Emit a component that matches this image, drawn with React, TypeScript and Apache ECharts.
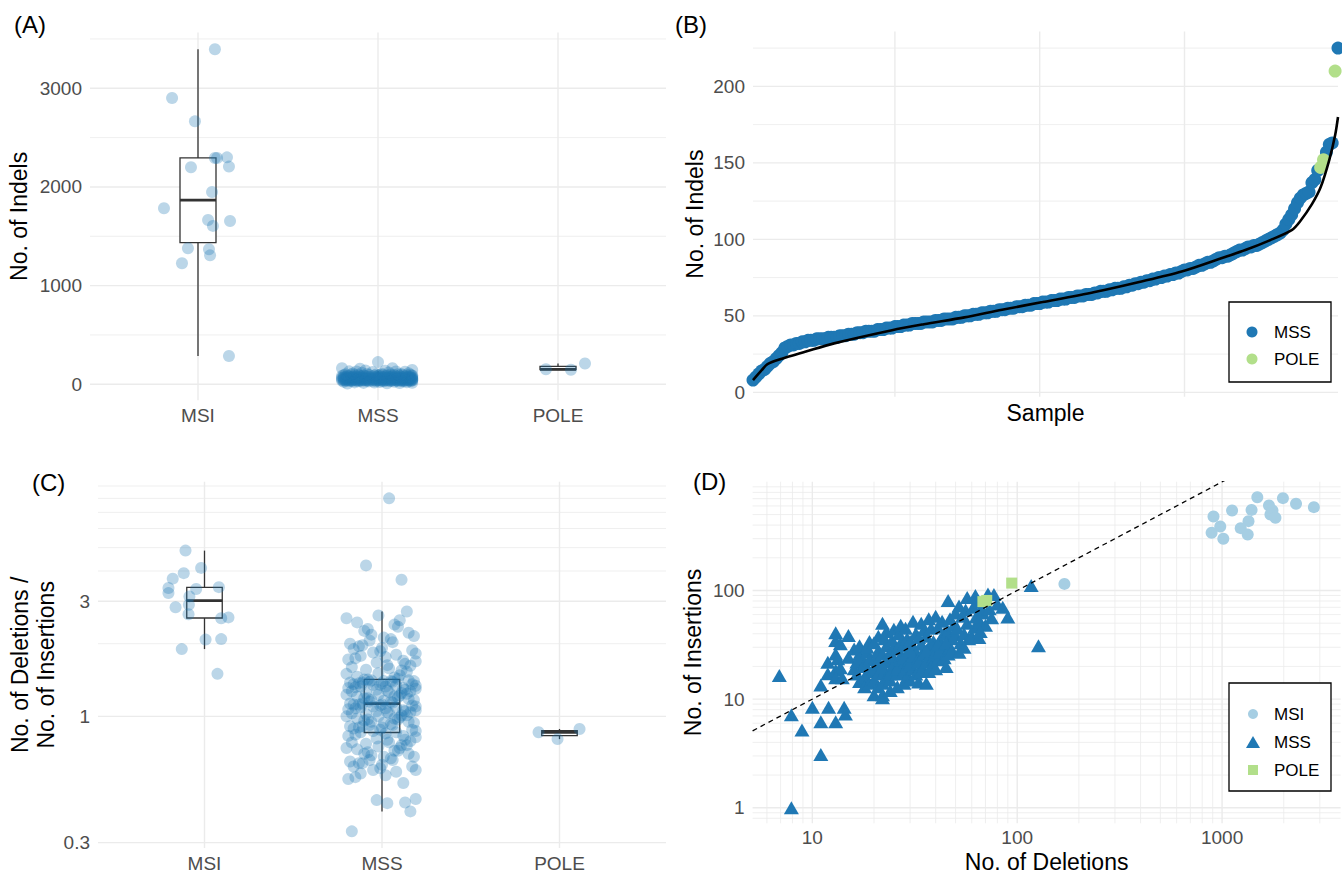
import { useEffect, useRef } from "react";
import * as echarts from "echarts";

const FONT = "'Liberation Sans', Arial, Helvetica, sans-serif";

const groups = ["MSI", "MSS", "POLE"];

// ---------- Panel A: total indels per sample ----------
const msiIndels = [3395, 2902, 2665, 2294, 2294, 2300, 2199, 2206, 1949, 1784, 1665, 1655, 1605, 1378, 1368, 1307, 1226, 287];
const msiIndelsJitter = [0.094, -0.144, -0.017, 0.094, 0.106, 0.161, -0.039, 0.172, 0.078, -0.189, 0.056, 0.178, 0.083, -0.056, 0.061, 0.067, -0.089, 0.172];
const mssIndels = [
  8, 10, 12, 14, 15, 17, 19, 20, 22, 24,
  26, 29, 30, 31, 31, 32, 32, 33, 33, 34,
  34, 34, 35, 35, 35, 35, 36, 36, 36, 36,
  37, 37, 37, 38, 38, 38, 39, 39, 39, 40,
  40, 40, 40, 41, 41, 41, 42, 42, 42, 43,
  43, 43, 44, 44, 44, 45, 45, 45, 45, 46,
  46, 46, 46, 47, 47, 47, 48, 48, 48, 48,
  49, 49, 49, 50, 50, 50, 51, 51, 51, 52,
  52, 52, 53, 53, 53, 54, 54, 54, 55, 55,
  55, 56, 56, 56, 57, 57, 57, 58, 58, 58,
  59, 59, 59, 60, 60, 60, 61, 61, 61, 62,
  62, 62, 63, 63, 63, 64, 64, 64, 65, 65,
  66, 66, 66, 67, 67, 68, 68, 68, 69, 69,
  70, 70, 71, 71, 72, 72, 73, 73, 74, 74,
  75, 75, 76, 76, 77, 77, 78, 78, 79, 80,
  80, 81, 81, 82, 83, 83, 84, 85, 85, 86,
  87, 88, 88, 89, 89, 90, 91, 92, 93, 93,
  94, 95, 95, 96, 96, 97, 98, 99, 100, 101,
  102, 103, 104, 106, 110, 113, 116, 120, 124, 127,
  129, 130, 131, 137, 139, 145, 157, 162, 163, 225,
];
const poleIndels = [147, 152, 210];
const poleIndelsJitter = [0.072, -0.067, 0.15];

// jitter offsets (category units) reused cyclically for the MSS cloud
const mssJitter = [-0.17, 0.05, 0.12, -0.08, 0.19, -0.02, -0.13, 0.16, 0.01, -0.19, 0.09, -0.05, 0.14, -0.11, 0.03, 0.18, -0.15, 0.07, -0.01, 0.11, -0.18, 0.13, -0.06, 0.02, -0.14, 0.17, -0.09, 0.06, -0.03, 0.15, -0.12, 0.1, -0.16, 0.04, -0.07, 0.19, -0.1, 0.08, -0.2, 0.0];

// ---------- Panel B: fitted curve ----------
const fitRank = [1, 4, 6, 11, 19, 29, 49, 60, 74, 87, 101, 119, 134, 149, 164, 171, 179, 187, 190, 194, 197, 200, 202, 203];
const fitIndels = [8, 14.5, 18.5, 22, 26.5, 32, 40.6, 44.5, 49, 54, 59, 65.6, 72, 79, 88.5, 93, 99, 106, 112, 123, 134, 152, 168, 180];

// ---------- Panel C: deletions / insertions ----------
const msiRatio = [4.86, 4.12, 3.92, 3.72, 3.4, 3.24, 3.37, 3.43, 3.14, 2.83, 2.9, 2.65, 2.55, 2.57, 2.08, 2.09, 1.9, 1.5];
const msiRatioJitter = [-0.107, -0.019, -0.117, -0.179, -0.203, -0.203, -0.047, 0.081, -0.085, -0.163, -0.088, -0.09, 0.094, 0.135, 0.006, 0.094, -0.128, 0.073];
const mssRatio = [
  0.334, 0.404, 0.437, 0.44, 0.45, 0.455, 0.53, 0.55, 0.56, 0.57,
  0.58, 0.59, 0.6, 0.6, 0.61, 0.62, 0.62, 0.63, 0.64, 0.64,
  0.65, 0.66, 0.66, 0.67, 0.68, 0.68, 0.69, 0.7, 0.7, 0.71,
  0.72, 0.72, 0.73, 0.74, 0.74, 0.75, 0.76, 0.76, 0.77, 0.78,
  0.78, 0.79, 0.8, 0.8, 0.81, 0.82, 0.83, 0.83, 0.84, 0.85,
  0.86, 0.86, 0.87, 0.87, 0.88, 0.88, 0.89, 0.9, 0.9, 0.91,
  0.91, 0.92, 0.92, 0.93, 0.94, 0.94, 0.95, 0.95, 0.96, 0.97,
  0.97, 0.98, 0.98, 0.99, 1.0, 1.0, 1.01, 1.01, 1.02, 1.03,
  1.03, 1.04, 1.04, 1.05, 1.05, 1.06, 1.06, 1.07, 1.08, 1.08,
  1.09, 1.09, 1.1, 1.1, 1.11, 1.11, 1.12, 1.12, 1.12, 1.13,
  1.13, 1.14, 1.15, 1.15, 1.16, 1.17, 1.17, 1.18, 1.19, 1.19,
  1.2, 1.21, 1.21, 1.22, 1.23, 1.23, 1.24, 1.25, 1.25, 1.26,
  1.27, 1.27, 1.28, 1.29, 1.29, 1.3, 1.31, 1.31, 1.32, 1.33,
  1.33, 1.34, 1.34, 1.35, 1.35, 1.36, 1.36, 1.37, 1.37, 1.38,
  1.38, 1.39, 1.39, 1.4, 1.4, 1.4, 1.41, 1.41, 1.42, 1.42,
  1.43, 1.45, 1.46, 1.48, 1.5, 1.51, 1.53, 1.55, 1.56, 1.58,
  1.6, 1.62, 1.63, 1.65, 1.67, 1.69, 1.7, 1.72, 1.74, 1.76,
  1.78, 1.8, 1.82, 1.84, 1.86, 1.88, 1.9, 1.92, 1.95, 1.97,
  2.0, 2.03, 2.06, 2.09, 2.12, 2.15, 2.18, 2.22, 2.26, 2.3,
  2.35, 2.4, 2.45, 2.5, 2.55, 2.62, 2.72, 3.68, 4.22, 8.0,
];
const poleRatio = [0.859, 0.805, 0.887];
const poleRatioJitter = [-0.118, -0.011, 0.113];

// ---------- Panel D: deletions vs insertions ----------
const msiDeletions = [1486, 1982, 2296, 2806, 1694, 1119, 1393, 1762, 1722, 1822, 908, 1346, 980, 1233, 889, 1334, 1014, 170];
const msiInsertions = [722, 708, 628, 585, 606, 545, 552, 545, 500, 467, 480, 435, 388, 375, 340, 327, 299, 115];
const poleDeletions = [68, 71, 94];
const poleInsertions = [79, 81, 117];
const mssDelIns: [number, number][] = [
  [6.9, 16.5], [7.9, 7.2], [7.9, 1.0], [8.9, 5.2], [10, 8.4], [11, 6.2], [11, 3.1], [12, 8.4], [13, 6.2], [14.3, 8.4], [14.5, 7.3],
  [13, 40.8], [13, 34.7], [15, 38.5], [13.7, 32.3], [13, 26], [11.9, 21.9], [13.3, 23.5], [15, 24.3], [11.9, 17.1], [13, 18.4], [13.7, 19.4], [11, 13.5], [13, 15.7], [14, 15.7],
  [16, 19], [16.5, 22], [17, 26], [16, 29], [17, 31], [17, 14.5], [16.5, 17], [17.5, 20], [17, 24],
  [18, 16], [18, 21], [18.5, 27], [19, 34], [18, 13], [19, 18], [19, 23], [18.5, 30], [19, 14],
  [20, 11], [20, 15], [20, 19], [20.5, 24], [21, 28], [20, 33], [21, 38], [21, 17], [20.5, 21], [21, 13],
  [22, 10.3], [22, 11], [22, 50], [22, 14], [22.5, 18], [23, 22], [22, 26], [23, 31], [22.5, 36], [23, 42], [23, 16], [22, 20],
  [24, 12], [24, 15], [24.5, 19], [25, 23], [24, 27], [25, 30], [24.5, 35], [25, 44], [24, 17], [25, 21], [24, 25],
  [26, 13], [26, 17], [26.5, 21], [27, 25], [26, 29], [27, 33], [26.5, 40], [27, 48], [26, 19], [27, 23],
  [28, 14], [28, 18], [28.5, 22], [29, 26], [28, 31], [29, 36], [28.5, 45], [29, 20], [28, 24], [29, 16],
  [30, 15], [31, 19], [30, 23], [32, 27], [31, 30], [30, 34], [32, 40], [31, 52], [30, 21], [32, 17], [31, 25], [30, 28],
  [33, 14.4], [34, 20], [33, 24], [35, 28], [34, 32], [33, 37], [35, 43], [34, 50], [33, 22], [35, 26], [34, 18],
  [36, 14], [37, 18], [36, 22], [38, 26], [37, 30], [39, 34], [36, 38], [38, 45], [37, 55], [39, 24], [36, 28], [38, 20],
  [40, 19], [41, 23], [40, 27], [43, 31], [42, 35], [44, 40], [41, 46], [43, 52], [40, 58], [42, 28], [44, 24], [41, 32],
  [45, 20], [46, 26], [47, 30], [48, 36], [46, 42], [49, 48], [47, 55], [50, 62], [45, 33], [48, 28], [50, 39], [46, 81],
  [52, 27], [53, 33], [55, 40], [51, 45], [57, 50], [54, 58], [56, 66], [52, 72], [58, 36], [55, 30], [57, 86],
  [60, 38], [62, 46], [65, 37], [66, 51], [63, 57], [68, 62], [61, 70], [64, 78], [62.5, 90], [70, 48], [66, 42], [67, 68],
  [72, 93], [73, 68], [77, 92], [75, 56], [90, 57], [127, 31], [117, 111], [80, 75], [85, 70],
];

// ---------- tick labels / grid breaks ----------
const ticksA = [0, 1000, 2000, 3000];
const minorA = [500, 1500, 2500, 3500];
const ticksB = [0, 50, 100, 150, 200];
const minorB = [25, 75, 125, 175, 225];
const sampleBreaks = [50, 100, 150];
const ticksC = [0.3, 1, 3];
const minorC = [2, 4, 5, 6, 7, 8, 9];
const ticksDy = [1, 10, 100];
const minorDy = [0.8, 0.9, 2, 3, 4, 5, 6, 7, 8, 9, 20, 30, 40, 50, 60, 70, 80, 90, 200, 300, 400, 500, 600, 700, 800, 900];
const ticksDx = [10, 100, 1000];
const minorDx = [6, 7, 8, 9, 20, 30, 40, 50, 60, 70, 80, 90, 200, 300, 400, 500, 600, 700, 800, 900, 2000, 3000];

const C_MSS = "#1F78B4";
const C_MSI = "#A6CEE3";
const C_POLE = "#B2DF8A";
const C_JIT = "rgba(31,120,180,0.3)";

const lg = Math.log10;

function padRange(vals: number[]): [number, number] {
  const mn = Math.min(...vals), mx = Math.max(...vals);
  const p = (mx - mn) * 0.05;
  return [mn - p, mx + p];
}

function quantile(s: number[], p: number) {
  const h = (s.length - 1) * p;
  const lo = Math.floor(h), hi = Math.ceil(h);
  return s[lo] + (h - lo) * (s[hi] - s[lo]);
}

function boxStats(vals: number[]) {
  const s = [...vals].sort((a, b) => a - b);
  const q1 = quantile(s, 0.25), med = quantile(s, 0.5), q3 = quantile(s, 0.75);
  const iqr = q3 - q1;
  const lo = s.find((v) => v >= q1 - 1.5 * iqr) as number;
  const hi = [...s].reverse().find((v) => v <= q3 + 1.5 * iqr) as number;
  return [q1, med, q3, lo, hi];
}

function gridLineSeries(i: number, xr: [number, number], yr: [number, number], hMajor: number[], hMinor: number[], vMajor: number[], vMinor: number[]) {
  const xm = (xr[0] + xr[1]) / 2, ym = (yr[0] + yr[1]) / 2;
  const data = [
    ...hMinor.map((v) => [xm, v, 0, 0]),
    ...vMinor.map((v) => [v, ym, 1, 0]),
    ...hMajor.map((v) => [xm, v, 0, 1]),
    ...vMajor.map((v) => [v, ym, 1, 1]),
  ];
  return {
    type: "custom",
    xAxisIndex: i,
    yAxisIndex: i,
    silent: true,
    dimensions: ["x", "y", "o", "m"],
    encode: { x: 0, y: 1 },
    data,
    renderItem: (params: any, api: any) => {
      const cs = params.coordSys;
      const p = api.coord([api.value(0), api.value(1)]);
      const horiz = api.value(2) === 0;
      const major = api.value(3) === 1;
      return {
        type: "line",
        shape: horiz
          ? { x1: cs.x, y1: p[1], x2: cs.x + cs.width, y2: p[1] }
          : { x1: p[0], y1: cs.y, x2: p[0], y2: cs.y + cs.height },
        style: { stroke: "#EBEBEB", lineWidth: major ? 1.4 : 0.8 },
      };
    },
  };
}

function boxSeries(i: number, boxes: number[][]) {
  return {
    type: "custom",
    xAxisIndex: i,
    yAxisIndex: i,
    silent: true,
    dimensions: ["x", "q1", "med", "q3", "lo", "hi"],
    encode: { x: 0, y: [1, 2, 3, 4, 5] },
    data: boxes,
    renderItem: (_params: any, api: any) => {
      const x = api.value(0);
      const q1 = api.value(1), med = api.value(2), q3 = api.value(3), lo = api.value(4), hi = api.value(5);
      const pL = api.coord([x - 0.1, q1]);
      const pR = api.coord([x + 0.1, q3]);
      const pM = api.coord([x, med]);
      const pLo = api.coord([x, lo]);
      const pHi = api.coord([x, hi]);
      const stroke = "#333333";
      return {
        type: "group",
        children: [
          { type: "line", shape: { x1: pM[0], y1: pHi[1], x2: pM[0], y2: pR[1] }, style: { stroke, lineWidth: 1.3 } },
          { type: "line", shape: { x1: pM[0], y1: pL[1], x2: pM[0], y2: pLo[1] }, style: { stroke, lineWidth: 1.3 } },
          { type: "rect", shape: { x: pL[0], y: pR[1], width: pR[0] - pL[0], height: pL[1] - pR[1] }, style: { fill: "#fff", stroke, lineWidth: 1.3 } },
          { type: "line", shape: { x1: pL[0], y1: pM[1], x2: pR[0], y2: pM[1] }, style: { stroke, lineWidth: 2.8 } },
        ],
      };
    },
  };
}

function buildOption() {
  // Panel A
  const yA = padRange([...msiIndels, ...mssIndels, ...poleIndels]);
  const xCat: [number, number] = [0.4, 3.6];
  const aMsi = msiIndels.map((v, i) => [1 + msiIndelsJitter[i], v]);
  const aMss = mssIndels.map((v, i) => [2 + mssJitter[i % mssJitter.length], v]);
  const aPole = poleIndels.map((v, i) => [3 + poleIndelsJitter[i], v]);
  const boxesA = [
    [1, ...boxStats(msiIndels)],
    [2, ...boxStats(mssIndels)],
    [3, ...boxStats(poleIndels)],
  ];

  // Panel B
  const bAll = [
    ...mssIndels.map((v) => ({ v, g: "MSS" })),
    ...poleIndels.map((v) => ({ v, g: "POLE" })),
  ].sort((a, b) => a.v - b.v);
  const bMss: number[][] = [];
  const bPole: number[][] = [];
  bAll.forEach((d, i) => (d.g === "MSS" ? bMss : bPole).push([i + 1, d.v]));
  const xB: [number, number] = [1, bAll.length];
  const yB = padRange([...bAll.map((d) => d.v), ...fitIndels]);

  // Panel C (log10 space)
  const yC = padRange([...msiRatio, ...mssRatio, ...poleRatio].map(lg));
  const cMsi = msiRatio.map((v, i) => [1 + msiRatioJitter[i], lg(v)]);
  const cMss = mssRatio.map((v, i) => [2 + mssJitter[(i * 7) % mssJitter.length], lg(v)]);
  const cPole = poleRatio.map((v, i) => [3 + poleRatioJitter[i], lg(v)]);
  const boxesC = [
    [1, ...boxStats(msiRatio.map(lg))],
    [2, ...boxStats(mssRatio.map(lg))],
    [3, ...boxStats(poleRatio.map(lg))],
  ];

  // Panel D (log10 space)
  const allDel = [...msiDeletions, ...mssDelIns.map((d) => d[0]), ...poleDeletions];
  const allIns = [...msiInsertions, ...mssDelIns.map((d) => d[1]), ...poleInsertions];
  const xD = padRange(allDel.map(lg));
  const yD = padRange(allIns.map(lg));
  const dMsi = msiDeletions.map((v, i) => [lg(v), lg(msiInsertions[i])]);
  const dMss = mssDelIns.map((d) => [lg(d[0]), lg(d[1])]);
  const dPole = poleDeletions.map((v, i) => [lg(v), lg(poleInsertions[i])]);

  const labelStyle = { color: "#4D4D4D", fontSize: 19, fontFamily: FONT };
  const nameStyle = { color: "#000", fontSize: 23, fontFamily: FONT };
  const bare = { axisLine: { show: false }, axisTick: { show: false }, splitLine: { show: false } };
  const catFmt = (v: number) => groups[Math.round(v) - 1];
  const logFmt = (v: number) => String(Number(Math.pow(10, v).toPrecision(3)));

  const text = (t: string, x: number, y: number, size: number) => ({
    type: "text",
    x,
    y,
    z: 101,
    style: { text: t, fill: "#000", fontSize: size, fontFamily: FONT, verticalAlign: "middle" },
  });

  const pt = (color: string) => ({ color, opacity: 1 });

  return {
    animation: false,
    backgroundColor: "#fff",
    textStyle: { fontFamily: FONT },
    grid: [
      { left: 90, top: 32.6, width: 576, height: 367.6, outerBoundsMode: "none" },
      { left: 753, top: 31.5, width: 585, height: 365.2, outerBoundsMode: "none" },
      { left: 98, top: 481.7, width: 568, height: 366.3, outerBoundsMode: "none" },
      { left: 752.6, top: 481.7, width: 588, height: 341.6, outerBoundsMode: "none" },
    ],
    xAxis: [
      { type: "value", gridIndex: 0, min: xCat[0], max: xCat[1], ...bare, axisLabel: { ...labelStyle, margin: 6, customValues: [1, 2, 3], formatter: catFmt } },
      { type: "value", gridIndex: 1, min: xB[0], max: xB[1], ...bare, axisLabel: { show: false }, name: "Sample", nameLocation: "middle", nameGap: 5, nameTextStyle: nameStyle },
      { type: "value", gridIndex: 2, min: xCat[0], max: xCat[1], ...bare, axisLabel: { ...labelStyle, margin: 6, customValues: [1, 2, 3], formatter: catFmt } },
      { type: "value", gridIndex: 3, min: xD[0], max: xD[1], ...bare, axisLabel: { ...labelStyle, margin: 5, customValues: ticksDx.map(lg), formatter: logFmt }, name: "No. of Deletions", nameLocation: "middle", nameGap: 27, nameTextStyle: nameStyle },
    ],
    yAxis: [
      { type: "value", gridIndex: 0, min: yA[0], max: yA[1], ...bare, axisLabel: { ...labelStyle, margin: 8, customValues: ticksA, formatter: (v: number) => String(v) }, name: "No. of Indels", nameLocation: "middle", nameGap: 60, nameTextStyle: nameStyle },
      { type: "value", gridIndex: 1, min: yB[0], max: yB[1], ...bare, axisLabel: { ...labelStyle, margin: 8, customValues: ticksB, formatter: (v: number) => String(v) }, name: "No. of Indels", nameLocation: "middle", nameGap: 47, nameTextStyle: nameStyle },
      { type: "value", gridIndex: 2, min: yC[0], max: yC[1], ...bare, axisLabel: { ...labelStyle, margin: 8, customValues: ticksC.map(lg), formatter: logFmt }, name: "No. of Deletions /\nNo. of Insertions", nameLocation: "middle", nameGap: 39, nameTextStyle: { ...nameStyle, lineHeight: 26, align: "center" } },
      { type: "value", gridIndex: 3, min: yD[0], max: yD[1], ...bare, axisLabel: { ...labelStyle, margin: 8, customValues: ticksDy.map(lg), formatter: logFmt }, name: "No. of Insertions", nameLocation: "middle", nameGap: 48, nameTextStyle: nameStyle },
    ],
    series: [
      // Panel A
      gridLineSeries(0, xCat, yA, ticksA, minorA, [1, 2, 3], []),
      boxSeries(0, boxesA),
      { type: "scatter", xAxisIndex: 0, yAxisIndex: 0, silent: true, data: [...aMsi, ...aMss, ...aPole], symbolSize: 12, itemStyle: pt(C_JIT) },
      // Panel B
      gridLineSeries(1, xB, yB, ticksB, minorB, sampleBreaks, []),
      { type: "scatter", name: "MSS", xAxisIndex: 1, yAxisIndex: 1, silent: true, data: bMss, symbolSize: 13, itemStyle: pt(C_MSS) },
      { type: "scatter", name: "POLE", xAxisIndex: 1, yAxisIndex: 1, silent: true, data: bPole, symbolSize: 13, itemStyle: pt(C_POLE) },
      { type: "line", xAxisIndex: 1, yAxisIndex: 1, silent: true, data: fitRank.map((r, i) => [r, fitIndels[i]]), smooth: 0.3, showSymbol: false, symbol: "none", lineStyle: { color: "#000", width: 2.6 } },
      // Panel C
      gridLineSeries(2, xCat, yC, ticksC.map(lg), minorC.map(lg), [1, 2, 3], []),
      boxSeries(2, boxesC),
      { type: "scatter", xAxisIndex: 2, yAxisIndex: 2, silent: true, data: [...cMsi, ...cMss, ...cPole], symbolSize: 12, itemStyle: pt(C_JIT) },
      // Panel D
      gridLineSeries(3, xD, yD, ticksDy.map(lg), minorDy.map(lg), ticksDx.map(lg), minorDx.map(lg)),
      { type: "scatter", name: "MSI", xAxisIndex: 3, yAxisIndex: 3, silent: true, data: dMsi, symbol: "circle", symbolSize: 12, itemStyle: pt(C_MSI) },
      { type: "scatter", name: "MSS", xAxisIndex: 3, yAxisIndex: 3, silent: true, data: dMss, symbol: "triangle", symbolSize: [15, 13], itemStyle: pt(C_MSS) },
      { type: "scatter", name: "POLE", xAxisIndex: 3, yAxisIndex: 3, silent: true, data: dPole, symbol: "rect", symbolSize: 11, itemStyle: pt(C_POLE) },
      { type: "line", xAxisIndex: 3, yAxisIndex: 3, silent: true, data: [[xD[0], xD[0]], [xD[1], xD[1]]], showSymbol: false, symbol: "none", lineStyle: { color: "#000", width: 1.3, type: [5, 4] } },
    ],
    graphic: [
      text("(A)", 14, 24, 24),
      text("(B)", 675, 24, 24),
      text("(C)", 32, 482, 24),
      text("(D)", 693, 481, 24),
      // Legend B
      { type: "rect", z: 100, shape: { x: 1229, y: 302, width: 102, height: 80 }, style: { fill: "#fff", stroke: "#000", lineWidth: 1.3 } },
      { type: "circle", z: 101, shape: { cx: 1252, cy: 332, r: 5.5 }, style: { fill: C_MSS } },
      { type: "circle", z: 101, shape: { cx: 1252, cy: 359, r: 5.5 }, style: { fill: C_POLE } },
      text(groups[1], 1274, 332, 17),
      text(groups[2], 1274, 359, 17),
      // Legend D
      { type: "rect", z: 100, shape: { x: 1229, y: 683, width: 102, height: 108 }, style: { fill: "#fff", stroke: "#000", lineWidth: 1.3 } },
      { type: "circle", z: 101, shape: { cx: 1253, cy: 714, r: 5 }, style: { fill: C_MSI } },
      { type: "polygon", z: 101, shape: { points: [[1246, 748], [1260, 748], [1253, 736]] }, style: { fill: C_MSS } },
      { type: "rect", z: 101, shape: { x: 1248, y: 765, width: 10, height: 10 }, style: { fill: C_POLE } },
      text(groups[0], 1274, 714, 17),
      text(groups[1], 1274, 742, 17),
      text(groups[2], 1274, 770, 17),
    ],
  };
}

export default function App() {
  const ref = useRef<HTMLDivElement>(null);
  useEffect(() => {
    const chart = echarts.init(ref.current as HTMLDivElement, null, { renderer: "svg" });
    chart.setOption(buildOption() as any);
    return () => chart.dispose();
  }, []);
  return (
    <div
      ref={ref}
      style={{ position: "fixed", left: 0, top: 0, width: 1342, height: 875, background: "#fff" }}
    />
  );
}
